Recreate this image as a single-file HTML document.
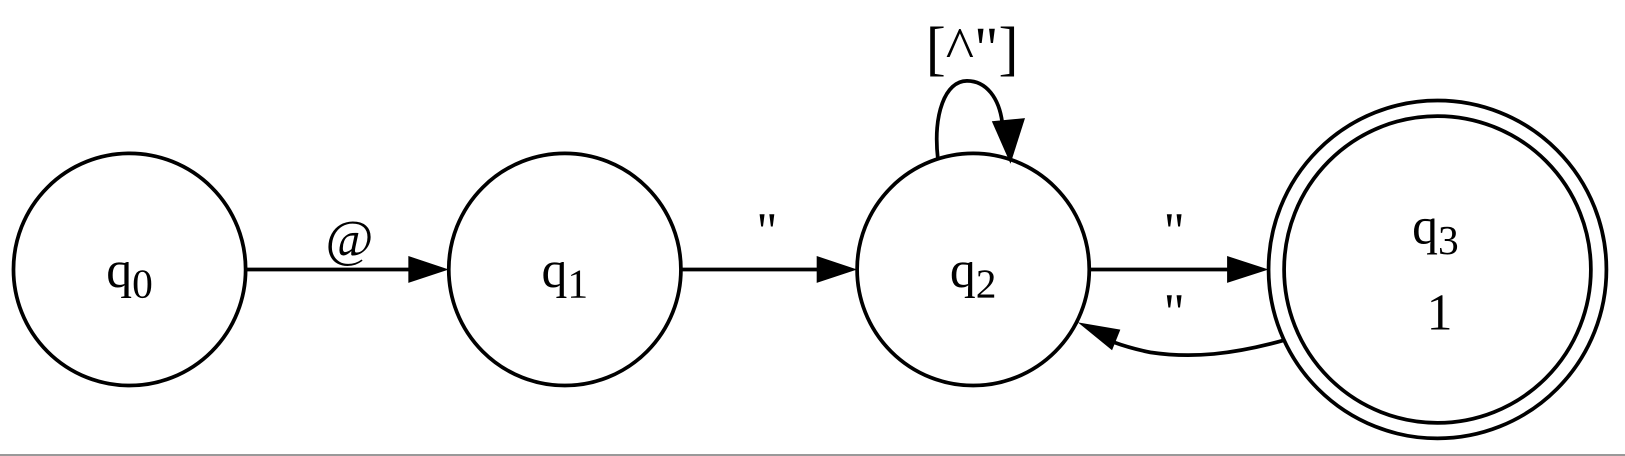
<!DOCTYPE html>
<html><head><meta charset="utf-8"><style>
html,body{margin:0;padding:0;background:#fff;width:1625px;height:456px;overflow:hidden}
svg text{font-family:"Liberation Serif",serif;fill:#000}
</style></head><body>
<svg width="1625" height="456" viewBox="0 0 1625 456">
<g transform="scale(1.0364)">
<g fill="none" stroke="#000" stroke-width="3.6">
<circle cx="125" cy="260" r="112"/>
<circle cx="545" cy="260" r="112"/>
<circle cx="939" cy="260" r="112"/>
<circle cx="1387" cy="260" r="163"/>
<circle cx="1387" cy="260" r="148"/>
<line x1="237" y1="260" x2="396" y2="260"/>
<line x1="657" y1="260" x2="790" y2="260"/>
<line x1="1051" y1="260" x2="1186" y2="260"/>
<path d="M1240,328 C1190,342 1150,346 1110,340 C1095,337 1085,334 1074,330"/>
<path d="M905,154 C900,110 912,78 933,78 C952,78 964,95 967,118"/>
</g>
<g fill="#000">
<polygon points="394,247 433,260 394,273"/>
<polygon points="788,247 827,260 788,273"/>
<polygon points="1184,247 1224,260 1184,273"/>
<polygon points="1081,318 1040,311 1073,338"/>
<polygon points="957,117 989,114 975,158"/>
</g>
<g font-size="50" text-anchor="middle">
<text x="125" y="277">q<tspan font-size="40" dy="10">0</tspan></text>
<text x="545" y="277">q<tspan font-size="40" dy="10">1</tspan></text>
<text x="939" y="277">q<tspan font-size="40" dy="10">2</tspan></text>
<text x="1385" y="235">q<tspan font-size="40" dy="10">3</tspan></text>
<text x="1389" y="318">1</text>
<text x="337" y="247" font-style="italic">@</text>
<text x="740" y="240">"</text>
<text x="1133" y="240">"</text>
<text x="1133" y="318">"</text>
<text x="938" y="66" font-size="58">[^"]</text>
</g>
</g>
<line x1="0" y1="455" x2="1625" y2="455" stroke="#999" stroke-width="2"/>
</svg>
</body></html>
